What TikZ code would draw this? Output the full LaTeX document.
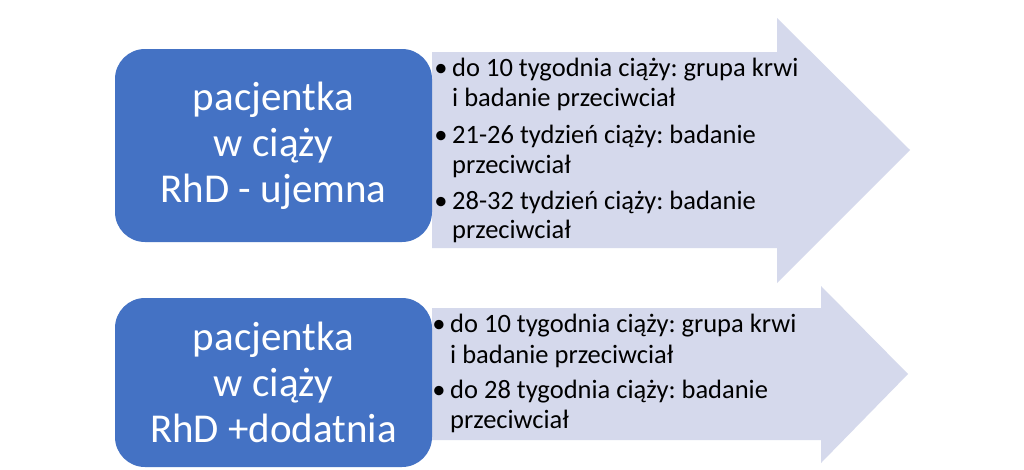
\documentclass[tikz,border=0pt]{standalone}
\usepackage{fontspec}
\setmainfont{Carlito}
\frenchspacing
\definecolor{boxblue}{HTML}{4472C4}
\definecolor{arrowfill}{HTML}{D5D9EC}
\begin{document}
\begin{tikzpicture}[x=1pt,y=-1pt,
  patient/.style={fill=boxblue,draw=none,rounded corners=30pt,text=white,
    align=center,inner sep=0pt,minimum width=317pt,
    font=\fontsize{41}{46}\selectfont},
  arrowshape/.style={fill=arrowfill,draw=none},
  txt/.style={anchor=base west,inner sep=0pt,text=black,
    font=\fontsize{26.5}{30}\selectfont\frenchspacing},
  bul/.style={anchor=base,inner sep=0pt,text=black,
    font=\fontsize{26.5}{30}\selectfont}]
\useasboundingbox (0,0) rectangle (1024,469);
\fill[white] (0,0) rectangle (1024,469);
% arrows
\path[arrowshape] (432,52) -- (777,52) -- (777,18) -- (910,150) -- (777,283)
  -- (777,248) -- (432,248) -- cycle;
\path[arrowshape] (432,308) -- (821,308) -- (821,286) -- (908,374) -- (821,463)
  -- (821,440) -- (432,440) -- cycle;
% patient boxes
\node[patient,minimum height=193pt] (neg) at (273.5,145.5)
  {pacjentka\\w ciąży\\RhD - ujemna};
\node[patient,minimum height=169pt] (pos) at (273.5,382.5)
  {pacjentka\\w ciąży\\RhD +dodatnia};
% top list
\node[bul] (b1) at (441,76) {•};
\node[txt] (t1) at (452,76) {do 10 tygodnia ciąży: grupa krwi};
\node[txt] (t2) at (452,106) {i badanie przeciwciał};
\node[bul] (b2) at (441,143) {•};
\node[txt] (t3) at (452,143) {21-26 tydzień ciąży: badanie};
\node[txt] (t4) at (452,173) {przeciwciał};
\node[bul] (b3) at (441,209) {•};
\node[txt] (t5) at (452,209) {28-32 tydzień ciąży: badanie};
\node[txt] (t6) at (452,238) {przeciwciał};
% bottom list
\node[bul] (b4) at (439,332) {•};
\node[txt] (u1) at (450,332) {do 10 tygodnia ciąży: grupa krwi};
\node[txt] (u2) at (450,363) {i badanie przeciwciał};
\node[bul] (b5) at (439,398) {•};
\node[txt] (u3) at (450,398) {do 28 tygodnia ciąży: badanie};
\node[txt] (u4) at (450,428) {przeciwciał};
\end{tikzpicture}
\end{document}
